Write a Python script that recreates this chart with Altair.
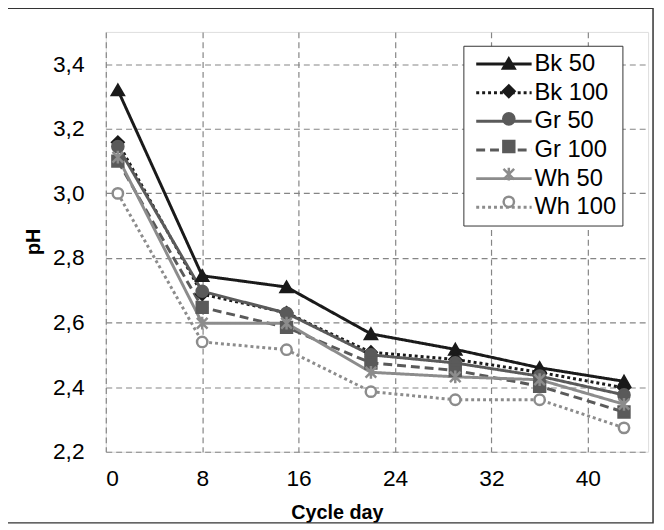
import altair as alt
import pandas as pd

days = [1, 8, 15, 22, 29, 36, 43]
series_names = ["Bk 50", "Bk 100", "Gr 50", "Gr 100", "Wh 50", "Wh 100"]
bk50 = [3.320, 2.745, 2.710, 2.565, 2.517, 2.460, 2.418]
bk100 = [3.158, 2.688, 2.630, 2.508, 2.486, 2.446, 2.398]
gr50 = [3.145, 2.697, 2.629, 2.500, 2.475, 2.434, 2.376]
gr100 = [3.100, 2.647, 2.585, 2.475, 2.452, 2.403, 2.323]
wh50 = [3.112, 2.598, 2.598, 2.446, 2.432, 2.423, 2.347]
wh100 = [3.000, 2.540, 2.516, 2.386, 2.361, 2.361, 2.274]

x_ticks = [0, 8, 16, 24, 32, 40]
y_ticks = [2.2, 2.4, 2.6, 2.8, 3.0, 3.2, 3.4]

colors = ["#1a1a1a", "#1a1a1a", "#5a5a5a", "#5a5a5a", "#8c8c8c", "#8c8c8c"]
fills = ["#1a1a1a", "#1a1a1a", "#5a5a5a", "#5a5a5a", "transparent", "white"]
dashes = [[1, 0], [3, 3], [1, 0], [9, 5], [1, 0], [3, 3]]
star = "M-1,-1L1,1M-1,1L1,-1M0,-1.2L0,1.2"
shapes = ["triangle-up", "diamond", "circle", "square", star, "circle"]
sizes = [140, 110, 130, 110, 120, 150]

rows = []
for name, vals in zip(series_names, [bk50, bk100, gr50, gr100, wh50, wh100]):
    for d, v in zip(days, vals):
        rows.append({"day": d, "pH": v, "series": name})
df = pd.DataFrame(rows)

FONT = "Liberation Sans"

x_enc = alt.X("day:Q", scale=alt.Scale(domain=[0, 45], nice=False, zero=False),
              axis=alt.Axis(values=x_ticks, title="Cycle day", grid=True, ticks=False,
                            tickSize=0, domain=False, labelPadding=16,
                            labelFontSize=23, labelFont=FONT, labelColor="black",
                            titleFontSize=20, titleFont=FONT, titleFontWeight="bold",
                            titleColor="black", titleX=234, titleY=62,
                            titleBaseline="middle", titleAlign="center",
                            gridColor="#858585", gridDash=[6, 4], gridWidth=1.2))
y_enc = alt.Y("pH:Q", scale=alt.Scale(domain=[2.2, 3.5], nice=False, zero=False),
              axis=alt.Axis(values=y_ticks, title="pH", grid=True, ticks=False,
                            tickSize=0, domain=False, labelPadding=22,
                            labelExpr="replace(format(datum.value, '.1f'), '.', ',')",
                            labelFontSize=23, labelFont=FONT, labelColor="black",
                            titleFontSize=20, titleFont=FONT, titleFontWeight="bold",
                            titleColor="black", titleX=-73, titleY=212,
                            titleAngle=270, titleBaseline="middle", titleAlign="center",
                            gridColor="#858585", gridDash=[6, 4], gridWidth=1.2))

frame = alt.Chart(alt.Data(values=[{"a": 1}])).mark_rect(
    fillOpacity=0, stroke="#333333", strokeWidth=1.5, clip=False
).encode(x=alt.value(-100), x2=alt.value(554), y=alt.value(-24), y2=alt.value(497))

line_legend = alt.Legend(title=None, orient="none", legendX=362, legendY=14,
                         symbolType="M-0.5,0L4.6,0", symbolSize=484,
                         symbolStrokeWidth=3, labelFontSize=24,
                         labelFont=FONT, labelColor="black", padding=6,
                         rowPadding=4, strokeColor="#333333",
                         fillColor="white", labelOffset=41)
lines = alt.Chart(df).mark_line(strokeWidth=3).encode(
    x=x_enc, y=y_enc,
    stroke=alt.Stroke("series:N", scale=alt.Scale(domain=series_names, range=colors),
                      legend=line_legend),
    strokeDash=alt.StrokeDash("series:N", scale=alt.Scale(domain=series_names, range=dashes),
                              legend=line_legend),
    detail="series:N",
)

pt_legend = alt.Legend(title=None, orient="none", legendX=390, legendY=14,
                       symbolStrokeWidth=2.5, labelFontSize=24,
                       labelFont=FONT, labelColor="transparent", labelExpr="' '",
                       padding=6, rowPadding=4, labelOffset=4)
points = alt.Chart(df).mark_point(strokeWidth=2.5, opacity=1).encode(
    x=x_enc, y=y_enc,
    stroke=alt.Stroke("series:N", scale=alt.Scale(domain=series_names, range=colors),
                      legend=pt_legend),
    fill=alt.Fill("series:N", scale=alt.Scale(domain=series_names, range=fills),
                  legend=pt_legend),
    shape=alt.Shape("series:N", scale=alt.Scale(domain=series_names, range=shapes),
                    legend=pt_legend),
    size=alt.Size("series:N", scale=alt.Scale(domain=series_names, range=sizes),
                  legend=pt_legend),
)

chart = alt.layer(frame, lines, points).resolve_scale(
    stroke="independent", strokeDash="independent", shape="independent",
    fill="independent", size="independent"
).resolve_legend(
    stroke="independent", strokeDash="independent", shape="independent",
    fill="independent", size="independent"
).properties(
    width=549, height=425,
    autosize=alt.AutoSizeParams(type="none"),
    padding={"left": 99, "top": 21, "right": 8, "bottom": 76},
).configure_view(stroke="#888888", strokeWidth=1.5).configure(background="white")

chart.save("out.html", embed_options={"renderer": "svg", "actions": False})
